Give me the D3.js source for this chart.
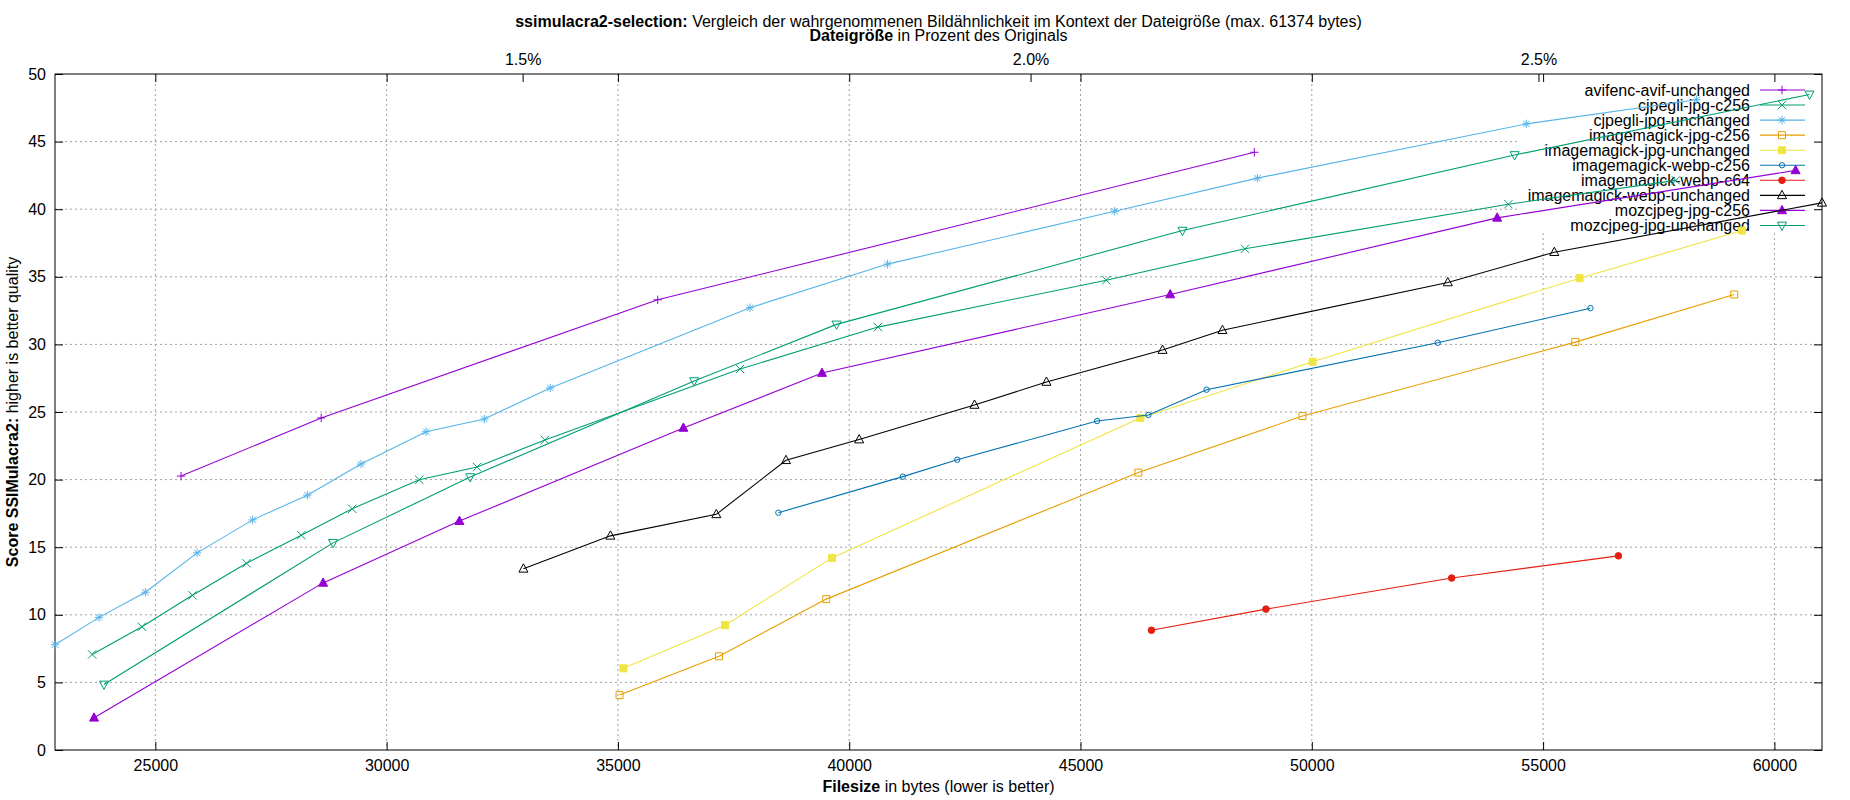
<!DOCTYPE html>
<html>
<head>
<meta charset="utf-8">
<script src="https://cdn.jsdelivr.net/npm/d3@7"></script>
<style>
  body { margin: 0; background: #fff; }
  svg { display: block; font-family: "Liberation Sans", Arial, sans-serif; }
</style>
</head>
<body>
<svg id="chart"></svg>
<script>
// data: [filesize in bytes, ssimulacra2 score]
const avifencAvifUnchanged = [[25555, 20.26], [28585, 24.56], [35860, 33.30], [48757, 44.21]];
const cjpegliJpgC256 = [[23634, 7.07], [24710, 9.12], [25803, 11.44], [26971, 13.81], [28155, 15.89], [29256, 17.84], [30705, 19.99], [31955, 20.93], [33421, 22.93], [37640, 28.18], [40621, 31.28], [45556, 34.75], [48555, 37.07], [54250, 40.37], [57871, 42.13]];
const cjpegliJpgUnchanged = [[22831, 7.79], [23783, 9.81], [24785, 11.67], [25903, 14.58], [27103, 17.02], [28287, 18.85], [29446, 21.15], [30854, 23.54], [32113, 24.48], [33537, 26.78], [37855, 32.71], [40828, 35.94], [45738, 39.85], [48824, 42.30], [54637, 46.31], [58316, 48.09]];
const imagemagickJpgC256 = [[35035, 4.06], [37185, 6.93], [39503, 11.16], [46251, 20.52], [49798, 24.70], [55695, 30.17], [59131, 33.69]];
const imagemagickJpgUnchanged = [[35118, 6.04], [37317, 9.23], [39627, 14.21], [46293, 24.56], [50017, 28.72], [55788, 34.90], [59299, 38.42]];
const imagemagickWebpC256 = [[38468, 17.55], [41159, 20.22], [42335, 21.47], [45357, 24.33], [46467, 24.78], [47725, 26.65], [52722, 30.12], [56023, 32.68]];
const imagemagickWebpC64 = [[46533, 8.86], [49009, 10.42], [53024, 12.72], [56628, 14.36]];
const imagemagickWebpUnchanged = [[32957, 13.40], [34837, 15.84], [37127, 17.43], [38634, 21.43], [40215, 22.96], [42708, 25.52], [44264, 27.22], [46773, 29.58], [48068, 31.05], [52940, 34.58], [55242, 36.82], [61029, 40.47]];
const mozcjpegJpgC256 = [[23675, 2.38], [28627, 12.36], [31574, 16.93], [36415, 23.82], [39412, 27.88], [46939, 33.69], [54007, 39.36], [60458, 42.87]];
const mozcjpegJpgUnchanged = [[23890, 4.85], [28842, 15.32], [31806, 20.19], [36647, 27.29], [39727, 31.48], [47204, 38.42], [54385, 44.01], [60760, 48.49]];

const seriesNames = [
  "avifenc-avif-unchanged", "cjpegli-jpg-c256", "cjpegli-jpg-unchanged",
  "imagemagick-jpg-c256", "imagemagick-jpg-unchanged", "imagemagick-webp-c256",
  "imagemagick-webp-c64", "imagemagick-webp-unchanged", "mozcjpeg-jpg-c256",
  "mozcjpeg-jpg-unchanged"
];
const seriesValues = [
  avifencAvifUnchanged, cjpegliJpgC256, cjpegliJpgUnchanged,
  imagemagickJpgC256, imagemagickJpgUnchanged, imagemagickWebpC256,
  imagemagickWebpC64, imagemagickWebpUnchanged, mozcjpegJpgC256,
  mozcjpegJpgUnchanged
];

const xTicks = [25000, 30000, 35000, 40000, 45000, 50000, 55000, 60000];
const yTicks = [0, 5, 10, 15, 20, 25, 30, 35, 40, 45, 50];
const percentTicks = [1.5, 2.0, 2.5];
const originalSize = 2196000; // bytes, so that the % axis lines up
const maxBytes = 61374;

// gnuplot default colours and point types
const colors = ["#9400d3", "#009e73", "#56b4e9", "#e69f00", "#f0e442", "#0072b2", "#e51e10", "#000000", "#9400d3", "#009e73"];
const markers = ["plus", "times", "star", "square", "squareFill", "circle", "circleFill", "tri", "triFill", "triDown"];

const width = 1850, height = 800;
const margin = { top: 74, right: 28, bottom: 50, left: 55 };
const innerW = width - margin.left - margin.right;
const innerH = height - margin.top - margin.bottom;

const svg = d3.select("#chart").attr("width", width).attr("height", height);
svg.append("rect").attr("width", width).attr("height", height).attr("fill", "#fff");

const allPoints = seriesValues.flat();
const x = d3.scaleLinear().domain(d3.extent(allPoints, d => d[0])).range([0, innerW]);
const y = d3.scaleLinear().domain([0, 50]).range([innerH, 0]);
const x2 = d3.scaleLinear()
  .domain(x.domain().map(b => b / originalSize * 100))
  .range([0, innerW]);

const g = svg.append("g").attr("transform", `translate(${margin.left},${margin.top})`);

// key area, grid stays out of it
const keyLeft = innerW - 305;
const keyBottom = 159;

// grid
const grid = g.append("g")
  .attr("stroke", "#a0a0a0")
  .attr("stroke-width", 1)
  .attr("stroke-dasharray", "2,3");
grid.selectAll("line.v")
  .data(xTicks)
  .join("line")
  .attr("x1", d => x(d)).attr("x2", d => x(d))
  .attr("y1", d => (x(d) >= keyLeft ? keyBottom : 0))
  .attr("y2", innerH);
grid.selectAll("line.h")
  .data(yTicks.filter(d => d > 0 && d < 50))
  .join("line")
  .attr("x1", 0)
  .attr("x2", d => (y(d) <= keyBottom ? keyLeft : innerW))
  .attr("y1", d => y(d)).attr("y2", d => y(d));

// axes, ticks point inwards like gnuplot
const tickLen = 8;
const bottomAxis = g.append("g")
  .attr("transform", `translate(0,${innerH})`)
  .call(d3.axisBottom(x).tickValues(xTicks).tickFormat(d3.format("d"))
    .tickSizeInner(-tickLen).tickSizeOuter(0).tickPadding(10));
const topAxis = g.append("g")
  .call(d3.axisTop(x).tickValues(xTicks).tickFormat("")
    .tickSizeInner(-tickLen).tickSizeOuter(0));
const pctAxis = g.append("g")
  .call(d3.axisTop(x2).tickValues(percentTicks).tickFormat(d => d3.format(".1f")(d) + "%")
    .tickSizeInner(-tickLen).tickSizeOuter(0).tickPadding(9));
const leftAxis = g.append("g")
  .call(d3.axisLeft(y).tickValues(yTicks)
    .tickSizeInner(-tickLen).tickSizeOuter(0).tickPadding(9));
const rightAxis = g.append("g")
  .attr("transform", `translate(${innerW},0)`)
  .call(d3.axisRight(y).tickValues(yTicks).tickFormat("")
    .tickSizeInner(-tickLen).tickSizeOuter(0));

[bottomAxis, topAxis, pctAxis, leftAxis, rightAxis].forEach(a => {
  a.select(".domain").remove();
  a.selectAll("line").attr("stroke", "#000");
  a.selectAll("text").attr("font-size", 16).attr("fill", "#000")
    .attr("font-family", "'Liberation Sans', Arial, sans-serif");
});

// border
g.append("rect")
  .attr("width", innerW).attr("height", innerH)
  .attr("fill", "none").attr("stroke", "#000").attr("stroke-width", 1);

// point shapes
function markerPath(kind) {
  const p = d3.path();
  const s = 4.2;
  if (kind === "plus" || kind === "star") {
    p.moveTo(-s, 0); p.lineTo(s, 0); p.moveTo(0, -s); p.lineTo(0, s);
  }
  if (kind === "times" || kind === "star") {
    const t = kind === "star" ? 3.2 : s;
    p.moveTo(-t, -t); p.lineTo(t, t); p.moveTo(-t, t); p.lineTo(t, -t);
  }
  if (kind === "square" || kind === "squareFill") {
    p.rect(-3.5, -3.5, 7, 7);
  }
  if (kind === "circle") { p.moveTo(2.7, 0); p.arc(0, 0, 2.7, 0, 2 * Math.PI); }
  if (kind === "circleFill") { p.moveTo(3.3, 0); p.arc(0, 0, 3.3, 0, 2 * Math.PI); }
  if (kind === "tri" || kind === "triFill") {
    p.moveTo(0, -5); p.lineTo(4.5, 3.3); p.lineTo(-4.5, 3.3); p.closePath();
  }
  if (kind === "triDown") {
    p.moveTo(0, 5); p.lineTo(4.5, -3.3); p.lineTo(-4.5, -3.3); p.closePath();
  }
  return p.toString();
}
const isFilled = k => k.endsWith("Fill");

// key
const key = g.append("g").attr("font-size", 16);
const keyTextX = innerW - 72;
const keyRow = i => 16 + i * 15.05;
seriesNames.forEach((name, i) => {
  const row = key.append("g").attr("transform", `translate(0,${keyRow(i)})`);
  row.append("text")
    .attr("x", keyTextX).attr("dy", "0.35em")
    .attr("text-anchor", "end").attr("fill", "#000")
    .text(name);
  row.append("line")
    .attr("x1", keyTextX + 10).attr("x2", keyTextX + 55)
    .attr("stroke", colors[i]).attr("stroke-width", 1.1);
  row.append("path")
    .attr("transform", `translate(${keyTextX + 32},0)`)
    .attr("d", markerPath(markers[i]))
    .attr("fill", isFilled(markers[i]) ? colors[i] : "none")
    .attr("stroke", colors[i]).attr("stroke-width", 1);
});

// series
const line = d3.line().x(d => x(d[0])).y(d => y(d[1]));
seriesValues.forEach((values, i) => {
  const sg = g.append("g");
  sg.append("path")
    .datum(values)
    .attr("fill", "none")
    .attr("stroke", colors[i])
    .attr("stroke-width", 1.1)
    .attr("d", line);
  sg.selectAll("path.pt")
    .data(values)
    .join("path")
    .attr("class", "pt")
    .attr("transform", d => `translate(${x(d[0])},${y(d[1])})`)
    .attr("d", markerPath(markers[i]))
    .attr("fill", isFilled(markers[i]) ? colors[i] : "none")
    .attr("stroke", colors[i])
    .attr("stroke-width", 1);
});

// titles
const cx = margin.left + innerW / 2;
const t1 = svg.append("text")
  .attr("x", cx).attr("y", 27)
  .attr("text-anchor", "middle").attr("font-size", 16).attr("fill", "#000");
t1.append("tspan").attr("font-weight", "bold").text("ssimulacra2-selection:");
t1.append("tspan").text(` Vergleich der wahrgenommenen Bildähnlichkeit im Kontext der Dateigröße (max. ${maxBytes} bytes)`);

const t2 = svg.append("text")
  .attr("x", cx).attr("y", 41)
  .attr("text-anchor", "middle").attr("font-size", 16).attr("fill", "#000");
t2.append("tspan").attr("font-weight", "bold").text("Dateigröße");
t2.append("tspan").text(" in Prozent des Originals");

const xl = svg.append("text")
  .attr("x", cx).attr("y", 792)
  .attr("text-anchor", "middle").attr("font-size", 16).attr("fill", "#000");
xl.append("tspan").attr("font-weight", "bold").text("Filesize");
xl.append("tspan").text(" in bytes (lower is better)");

const yl = svg.append("text")
  .attr("transform", `translate(18,${margin.top + innerH / 2}) rotate(-90)`)
  .attr("text-anchor", "middle").attr("font-size", 16).attr("fill", "#000");
yl.append("tspan").attr("font-weight", "bold").text("Score SSIMulacra2:");
yl.append("tspan").text(" higher is better quality");
</script>
</body>
</html>
